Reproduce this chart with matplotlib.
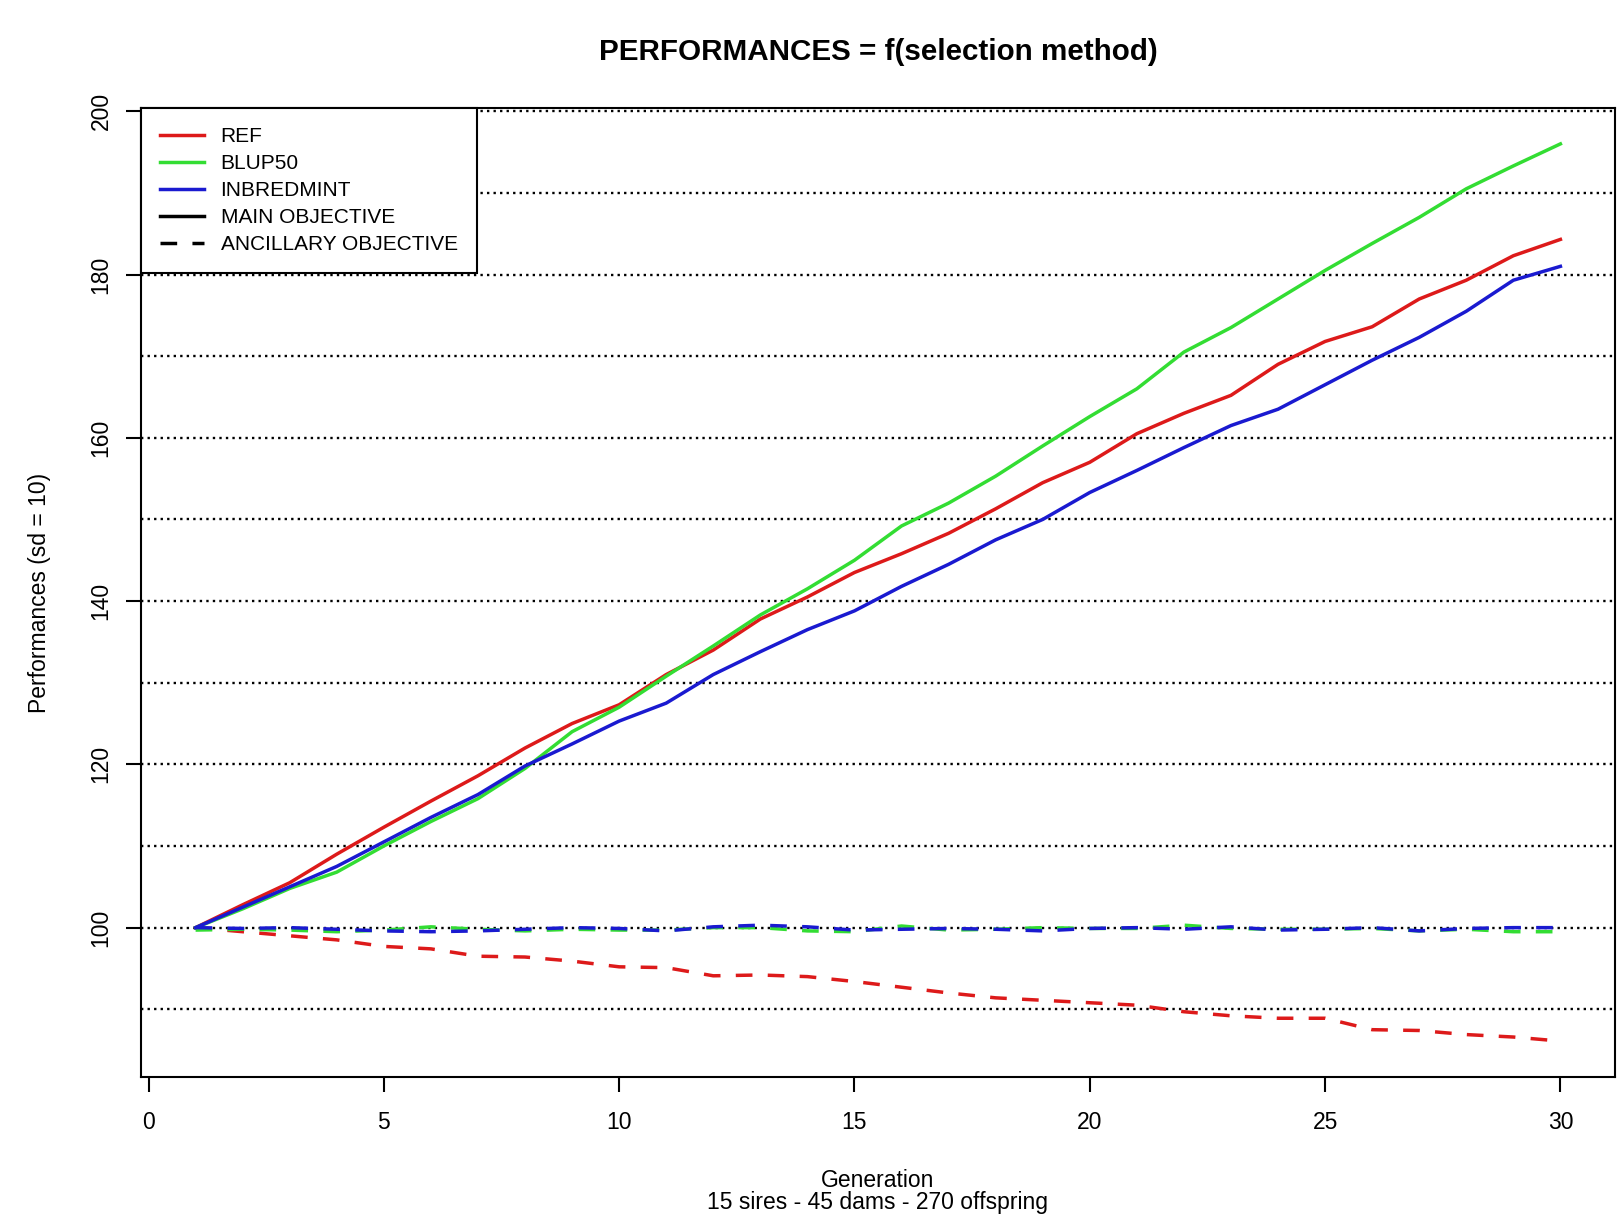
import numpy as np
import matplotlib
matplotlib.use('Agg')
import matplotlib.pyplot as plt
from matplotlib.lines import Line2D

plt.rcParams['font.family'] = ['Liberation Sans', 'DejaVu Sans']
plt.rcParams['lines.scale_dashes'] = False

generation = list(range(1, 31))

# main objective
ref_main = [100.0, 102.8, 105.5, 109.0, 112.3, 115.5, 118.6, 122.0, 125.0, 127.3,
            131.0, 134.0, 137.8, 140.5, 143.5, 145.8, 148.3, 151.3, 154.5, 157.0,
            160.5, 163.0, 165.2, 169.0, 171.8, 173.6, 177.0, 179.3, 182.3, 184.3]
blup_main = [100.0, 102.3, 104.8, 106.8, 110.0, 113.0, 115.8, 119.5, 124.0, 127.0,
             130.8, 134.5, 138.3, 141.5, 145.0, 149.2, 152.0, 155.3, 159.0, 162.6,
             166.0, 170.5, 173.5, 177.0, 180.5, 183.8, 187.0, 190.5, 193.3, 196.0]
inbr_main = [100.0, 102.5, 105.0, 107.5, 110.5, 113.5, 116.3, 119.8, 122.5, 125.3,
             127.5, 131.0, 133.8, 136.5, 138.8, 141.8, 144.5, 147.5, 150.0, 153.3,
             156.0, 158.8, 161.5, 163.5, 166.5, 169.5, 172.3, 175.5, 179.3, 181.0]

# ancillary objective
ref_anc = [100.0, 99.5, 99.0, 98.5, 97.7, 97.4, 96.5, 96.4, 95.9, 95.2,
           95.1, 94.1, 94.2, 94.0, 93.4, 92.7, 92.0, 91.4, 91.1, 90.8,
           90.5, 89.7, 89.2, 88.9, 88.9, 87.5, 87.4, 86.9, 86.6, 86.1]
blup_anc = [99.7, 99.8, 99.7, 99.5, 99.7, 100.1, 99.8, 99.6, 99.8, 99.7,
            99.7, 100.0, 100.0, 99.6, 99.5, 100.2, 99.7, 99.8, 100.0, 99.9,
            99.9, 100.3, 99.9, 99.8, 99.8, 99.9, 99.6, 99.8, 99.5, 99.5]
inbr_anc = [100.0, 99.9, 100.0, 99.8, 99.6, 99.5, 99.6, 99.8, 100.0, 99.9,
            99.6, 100.1, 100.3, 100.1, 99.7, 99.8, 99.9, 99.8, 99.6, 99.9,
            100.0, 99.8, 100.1, 99.7, 99.8, 100.0, 99.6, 99.9, 100.0, 100.0]

methods = ['REF', 'BLUP50', 'INBREDMINT']
colors = ['#dd1a1a', '#33dd33', '#1a1ad0']

fig = plt.figure(figsize=(16.24, 12.15), dpi=100)
ax = fig.add_axes([141/1624, 1 - 1077/1215, (1615 - 141)/1624, (1077 - 108)/1215])

dash = (0, (12, 11))
lw = 2.5

# dotted reference lines every 10
for yy in range(90, 201, 10):
    ax.axhline(yy, color='black', lw=1.7, linestyle=(0, (1.7, 3.0)), zorder=1)

for main, anc, c in zip([ref_main, blup_main, inbr_main], [ref_anc, blup_anc, inbr_anc], colors):
    ax.plot(generation, main, color=c, lw=lw, zorder=3)
    ax.plot(generation, anc, color=c, lw=lw, linestyle=dash, zorder=3)

# R style 4% padding
allv = ref_main + blup_main + inbr_main + ref_anc + blup_anc + inbr_anc
lo, hi = min(allv), max(allv)
pad = 0.04 * (hi - lo)
ax.set_ylim(lo - pad, hi + pad)
xpad = 0.04 * (generation[-1] - generation[0])
ax.set_xlim(generation[0] - xpad, generation[-1] + xpad)

ax.set_xticks(range(0, 31, 5))
ax.set_yticks(range(100, 201, 20))
ax.tick_params(axis='both', direction='out', length=10.5, width=1.5, labelsize=16.5, colors='black')
ax.tick_params(axis='x', pad=14)
ax.tick_params(axis='y', pad=10)
for t in ax.get_yticklabels():
    t.set_rotation(90)
    t.set_va('center')
for s in ax.spines.values():
    s.set_linewidth(1.5)

ax.set_xlabel('Generation', fontsize=16.5, labelpad=25)
ax.set_ylabel('Performances (sd = 10)', fontsize=16.5, labelpad=28)
fig.text(878/1624, 1/1215, '15 sires - 45 dams - 270 offspring',
         ha='center', va='bottom', fontsize=16.5)
fig.text(878/1624, 1 - 52/1215, 'PERFORMANCES = f(selection method)',
         ha='center', va='center', fontsize=21.3, fontweight='bold')

handles = [Line2D([], [], color=c, lw=lw) for c in colors]
handles += [Line2D([], [], color='black', lw=lw),
            Line2D([], [], color='black', lw=lw, linestyle=dash)]
labels = methods + ['MAIN OBJECTIVE', 'ANCILLARY OBJECTIVE']
leg = ax.legend(handles, labels, loc='upper left', bbox_to_anchor=(0, 1),
                borderaxespad=0, fancybox=False, framealpha=1, edgecolor='black',
                fontsize=15, handlelength=2.07, handletextpad=0.82,
                labelspacing=0.38, borderpad=0.93)
leg.get_frame().set_linewidth(1.5)
leg.set_zorder(5)

fig.savefig('out.png', dpi=100)
